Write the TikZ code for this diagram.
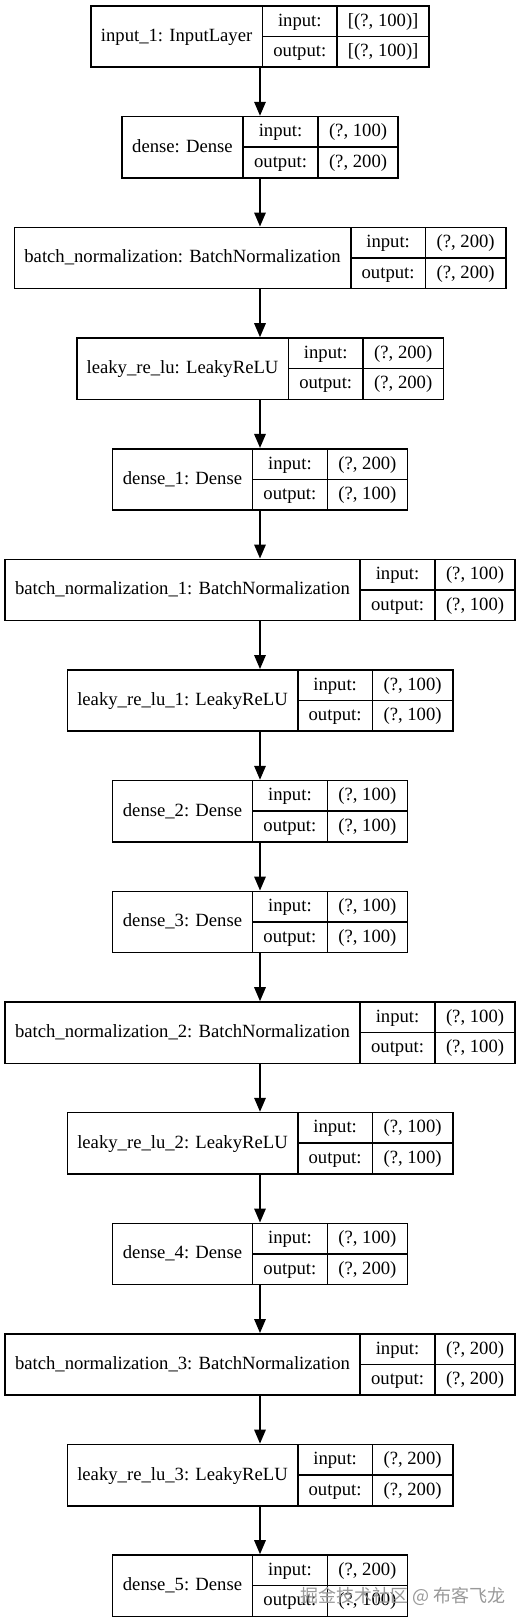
\documentclass[tikz,border=0pt]{standalone}
\usepackage{fontspec}
\setmainfont{Liberation Serif}
\newfontfamily\cjkfont{Noto Sans CJK SC}
\usetikzlibrary{arrows.meta,positioning}
\tikzset{
  layerframe/.style={minimum height=61.3pt, inner sep=0pt, outer sep=0pt},
  cellbase/.style={draw, line width=1.6pt, inner sep=0pt, outer sep=0pt,
    text height=14pt, text depth=4pt, font=\fontsize{18.67}{22}\selectfont},
  namecell/.style={cellbase, minimum height=61.3pt},
  keycell/.style={cellbase, minimum height=30.65pt, minimum width=74.8pt},
  valcell/.style={cellbase, minimum height=30.65pt},
  flow/.style={-{Triangle[length=14pt,width=11.5pt]}, line width=1.6pt, shorten >=0.8pt},
  watermark/.style={font=\cjkfont\fontsize{18}{20}\selectfont, text=black!40, inner sep=0pt},
}
% #1 name, #2 top y, #3 label width, #4 value width, #5 label, #6 input, #7 output
\newcommand{\kerasbox}[7]{%
  \node[layerframe, minimum width={(#3+74.8+#4)*1pt}, anchor=north] (#1) at (260,#2) {};
  \node[namecell, minimum width=#3pt, anchor=north west] (#1-lbl) at (#1.north west) {#5};
  \node[keycell, anchor=north west] (#1-ik) at (#1-lbl.north east) {input:};
  \node[keycell, anchor=north west] (#1-ok) at (#1-ik.south west) {output:};
  \node[valcell, minimum width=#4pt, anchor=north west] (#1-iv) at (#1-ik.north east) {#6};
  \node[valcell, minimum width=#4pt, anchor=north west] (#1-ov) at (#1-ok.north east) {#7};
}

\begin{document}
\begin{tikzpicture}[x=1pt, y=-1pt]
  \useasboundingbox (0,0) rectangle (520,1623);

  % --- layers ---
  \kerasbox{inp}{5.7}{171.6}{92}{input\_1: InputLayer}{[(?, 100)]}{[(?, 100)]}
  \kerasbox{dns}{116.6}{121.3}{80.2}{dense: Dense}{(?, 100)}{(?, 200)}
  \kerasbox{bn}{227.3}{336.4}{80.2}{batch\_normalization: BatchNormalization}{(?, 200)}{(?, 200)}
  \kerasbox{lr}{338.0}{211.6}{80.2}{leaky\_re\_lu: LeakyReLU}{(?, 200)}{(?, 200)}
  \kerasbox{dnsA}{448.7}{140}{80.2}{dense\_1: Dense}{(?, 200)}{(?, 100)}
  \kerasbox{bnA}{559.3}{355.3}{80.2}{batch\_normalization\_1: BatchNormalization}{(?, 100)}{(?, 100)}
  \kerasbox{lrA}{669.8}{230.4}{80.2}{leaky\_re\_lu\_1: LeakyReLU}{(?, 100)}{(?, 100)}
  \kerasbox{dnsB}{780.6}{140}{80.2}{dense\_2: Dense}{(?, 100)}{(?, 100)}
  \kerasbox{dnsC}{891.3}{140}{80.2}{dense\_3: Dense}{(?, 100)}{(?, 100)}
  \kerasbox{bnB}{1002.0}{355.3}{80.2}{batch\_normalization\_2: BatchNormalization}{(?, 100)}{(?, 100)}
  \kerasbox{lrB}{1112.6}{230.4}{80.2}{leaky\_re\_lu\_2: LeakyReLU}{(?, 100)}{(?, 100)}
  \kerasbox{dnsD}{1223.3}{140}{80.2}{dense\_4: Dense}{(?, 100)}{(?, 200)}
  \kerasbox{bnC}{1333.8}{355.3}{80.2}{batch\_normalization\_3: BatchNormalization}{(?, 200)}{(?, 200)}
  \kerasbox{lrC}{1444.4}{230.4}{80.2}{leaky\_re\_lu\_3: LeakyReLU}{(?, 200)}{(?, 200)}
  \kerasbox{dnsE}{1555.0}{140}{80.2}{dense\_5: Dense}{(?, 200)}{(?, 100)}

  % --- flow arrows ---
  \draw[flow] (inp.south) -- (dns.north);
  \draw[flow] (dns.south) -- (bn.north);
  \draw[flow] (bn.south) -- (lr.north);
  \draw[flow] (lr.south) -- (dnsA.north);
  \draw[flow] (dnsA.south) -- (bnA.north);
  \draw[flow] (bnA.south) -- (lrA.north);
  \draw[flow] (lrA.south) -- (dnsB.north);
  \draw[flow] (dnsB.south) -- (dnsC.north);
  \draw[flow] (dnsC.south) -- (bnB.north);
  \draw[flow] (bnB.south) -- (lrB.north);
  \draw[flow] (lrB.south) -- (dnsD.north);
  \draw[flow] (dnsD.south) -- (bnC.north);
  \draw[flow] (bnC.south) -- (lrC.north);
  \draw[flow] (lrC.south) -- (dnsE.north);

  % watermark
  \node[watermark] (wm) at (402.7,1596.7) {掘金技术社区 @ 布客飞龙};
\end{tikzpicture}
\end{document}
